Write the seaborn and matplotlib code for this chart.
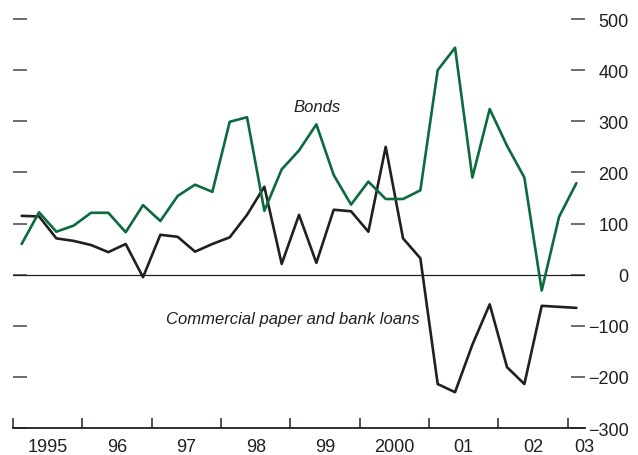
import pandas as pd
import numpy as np
import matplotlib
matplotlib.use("Agg")
import matplotlib.pyplot as plt
import seaborn as sns

# Datos trimestrales 1995T1 - 2003T1
quarters = pd.period_range("1995Q1", "2003Q1", freq="Q")
bonds = [60, 122, 84, 96, 121, 121, 83, 136, 105, 154, 176, 162,
         299, 308, 125, 206, 243, 294, 195, 137, 182, 148, 148, 165,
         400, 444, 190, 324, 252, 190, -31, 113, 179]
paper_loans = [115, 114, 71, 66, 58, 44, 60, -5, 78, 74, 45, 60,
               73, 117, 172, 21, 117, 23, 127, 124, 84, 250, 71, 32,
               -214, -230, -137, -58, -181, -214, -61, -63, -65]
year_labels = ["1995", "96", "97", "98", "99", "2000", "01", "02", "03"]
y_ticks = [-300, -200, -100, 0, 100, 200, 300, 400, 500]

x = [q.year + (q.quarter - 0.5) / 4 for q in quarters]
data = pd.DataFrame({"x": x, "Bonds": bonds, "Paper": paper_loans})

sns.set_style("white")
plt.rcParams["font.family"] = ["Liberation Sans Narrow", "Liberation Sans", "DejaVu Sans"]

fig = plt.figure(figsize=(6.38, 4.56), dpi=100)
ax = fig.add_axes([0.0204, 0.0592, 0.8966, 0.8968])

green = "#0b6b3d"
black = "#231f20"
ax.axhline(0, color=black, lw=0.9, zorder=1)
sns.lineplot(data=data, x="x", y="Bonds", color=green, lw=1.9, ax=ax, zorder=3)
sns.lineplot(data=data, x="x", y="Paper", color=black, lw=1.9, ax=ax, zorder=2)

ax.set_xlim(1995, 2003.25)
ax.set_ylim(-300, 500)
ax.set_xlabel("")
ax.set_ylabel("")

for s in ["top", "left", "right"]:
    ax.spines[s].set_visible(False)
ax.spines["bottom"].set_color(black)
ax.spines["bottom"].set_linewidth(1.3)

# eje y: marcas a ambos lados, etiquetas a la derecha
ax.set_yticks(y_ticks)
ax.set_yticklabels([str(v).replace("-", "\u2212") for v in y_ticks])
ax.tick_params(axis="y", left=True, right=True, labelleft=False, labelright=True,
               direction="in", length=10, width=1.1, color="#444444",
               pad=31.5, labelsize=13, labelcolor=black)
for lab in ax.get_yticklabels():
    lab.set_horizontalalignment("right")

# eje x: marcas en los cambios de año, etiquetas centradas
ax.set_xticks(np.arange(1995, 2004))
ax.set_xticklabels([])
ax.set_xticks([y + 0.5 for y in range(1995, 2003)] + [2003.24], minor=True)
ax.set_xticklabels(year_labels, minor=True)
ax.tick_params(axis="x", which="major", bottom=True, direction="in", length=7,
               width=1.1, color=black)
ax.tick_params(axis="x", which="minor", bottom=True, length=0, pad=7,
               labelsize=13, labelcolor=black)

ax.text(1999.38, 329, "Bonds", style="italic", fontsize=12, color=black,
        ha="center", va="center")
ax.text(1999.03, -86, "Commercial paper and bank loans", style="italic",
        fontsize=12, color=black, ha="center", va="center")

fig.savefig("out.png", dpi=100)
